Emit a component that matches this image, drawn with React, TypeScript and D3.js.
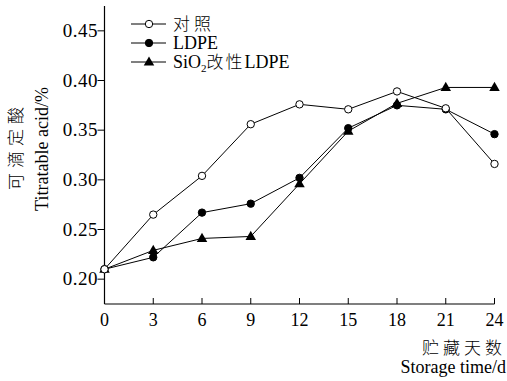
import React, { useEffect, useRef } from "react";
import * as d3 from "d3";

const days = [0, 3, 6, 9, 12, 15, 18, 21, 24];
const controlValues = [0.21, 0.265, 0.304, 0.356, 0.376, 0.371, 0.389, 0.372, 0.316];
const ldpeValues = [0.21, 0.222, 0.267, 0.276, 0.302, 0.352, 0.375, 0.371, 0.346];
const sio2Values = [0.21, 0.229, 0.241, 0.243, 0.296, 0.349, 0.377, 0.393, 0.393];
const yTicks = [0.2, 0.25, 0.3, 0.35, 0.4, 0.45];
const seriesNames = ["对照", "LDPE", "SiO2改性LDPE"];

const W = 507;
const H = 381;
const serif = "'Liberation Serif', 'Times New Roman', 'Noto Sans CJK SC', serif";
const cjk = "'Noto Sans CJK SC', 'Liberation Serif', serif";

export default function App() {
  const ref = useRef<SVGSVGElement | null>(null);

  useEffect(() => {
    const svg = d3.select(ref.current);
    svg.selectAll("*").remove();

    const x = d3.scaleLinear().domain([0, 24]).range([104.5, 494.5]);
    const y = d3.scaleLinear().domain([0.175, 0.475]).range([304, 6]);

    const g = svg.append("g");
    g.append("line")
      .attr("x1", x(0)).attr("x2", x(24)).attr("y1", y(0.175)).attr("y2", y(0.175))
      .attr("stroke", "#000").attr("stroke-width", 1.2);
    g.append("line")
      .attr("x1", x(0)).attr("x2", x(0)).attr("y1", y(0.175)).attr("y2", y(0.475))
      .attr("stroke", "#000").attr("stroke-width", 1.2);

    days.forEach((d) => {
      g.append("line")
        .attr("x1", x(d)).attr("x2", x(d)).attr("y1", y(0.175)).attr("y2", y(0.175) - 6)
        .attr("stroke", "#000").attr("stroke-width", 1);
      g.append("text")
        .attr("x", x(d)).attr("y", 326)
        .attr("text-anchor", "middle")
        .attr("font-family", serif).attr("font-size", 18)
        .text(String(d));
    });

    yTicks.forEach((v) => {
      g.append("line")
        .attr("x1", x(0) - 7).attr("x2", x(0)).attr("y1", y(v)).attr("y2", y(v))
        .attr("stroke", "#000").attr("stroke-width", 1);
      g.append("text")
        .attr("x", 98).attr("y", y(v) + 6)
        .attr("text-anchor", "end")
        .attr("font-family", serif).attr("font-size", 19)
        .attr("letter-spacing", 0.5)
        .text(v.toFixed(2));
    });

    g.append("text")
      .attr("x", 506).attr("y", 354)
      .attr("text-anchor", "end")
      .attr("font-family", cjk).attr("font-size", 17).attr("font-weight", 300)
      .attr("letter-spacing", 4)
      .text("贮藏天数");
    g.append("text")
      .attr("x", 506).attr("y", 373)
      .attr("text-anchor", "end")
      .attr("font-family", serif).attr("font-size", 18)
      .text("Storage time/d");

    g.append("text")
      .attr("transform", "translate(22,146) rotate(-90)")
      .attr("text-anchor", "middle")
      .attr("font-family", cjk).attr("font-size", 17).attr("font-weight", 300)
      .attr("letter-spacing", 5)
      .text("可滴定酸");
    g.append("text")
      .attr("transform", "translate(48,149) rotate(-90)")
      .attr("text-anchor", "middle")
      .attr("font-family", serif).attr("font-size", 18)
      .text("Titratable acid/%");

    const line = d3.line<number>().x((_, i) => x(days[i])).y((v) => y(v));
    const tri = d3.symbol().type(d3.symbolTriangle).size(48);

    const drawSeries = (vals: number[], kind: string) => {
      g.append("path").attr("d", line(vals) as string)
        .attr("fill", "none").attr("stroke", "#000").attr("stroke-width", 1);
      vals.forEach((v, i) => {
        if (kind === "tri") {
          g.append("path").attr("d", tri() as string)
            .attr("transform", `translate(${x(days[i])},${y(v) + 0.5})`)
            .attr("fill", "#000");
        } else {
          g.append("circle").attr("cx", x(days[i])).attr("cy", y(v)).attr("r", 3.7)
            .attr("fill", kind === "open" ? "#fff" : "#000")
            .attr("stroke", "#000").attr("stroke-width", 1);
        }
      });
    };
    drawSeries(sio2Values, "tri");
    drawSeries(ldpeValues, "filled");
    drawSeries(controlValues, "open");

    const kinds = ["open", "filled", "tri"];
    const rowsY = [24, 43, 62];
    seriesNames.forEach((name, i) => {
      const ly = rowsY[i];
      g.append("line").attr("x1", 131).attr("x2", 166).attr("y1", ly).attr("y2", ly)
        .attr("stroke", "#000").attr("stroke-width", 1);
      if (kinds[i] === "tri") {
        g.append("path").attr("d", tri() as string)
          .attr("transform", `translate(149,${ly + 0.5})`).attr("fill", "#000");
      } else {
        g.append("circle").attr("cx", 149).attr("cy", ly).attr("r", 3.7)
          .attr("fill", kinds[i] === "open" ? "#fff" : "#000")
          .attr("stroke", "#000").attr("stroke-width", 1);
      }
      const t = g.append("text").attr("x", 173).attr("y", ly + 6)
        .attr("font-size", 18).attr("font-family", serif);
      if (name.startsWith("SiO2")) {
        t.append("tspan").text("SiO");
        t.append("tspan").attr("font-size", 11).attr("dy", 4).text("2");
        t.append("tspan").attr("dy", -4).attr("font-family", cjk).attr("font-size", 17)
          .attr("font-weight", 300).attr("letter-spacing", 2).text("改性");
        t.append("tspan").text("LDPE");
      } else if (name === "对照") {
        t.attr("font-family", cjk).attr("font-size", 17).attr("font-weight", 300)
          .attr("letter-spacing", 4).text(name);
      } else {
        t.text(name);
      }
    });
  }, []);

  return (
    <svg
      ref={ref}
      width={W}
      height={H}
      style={{ position: "absolute", left: 0, top: 0, background: "#fff" }}
    />
  );
}
